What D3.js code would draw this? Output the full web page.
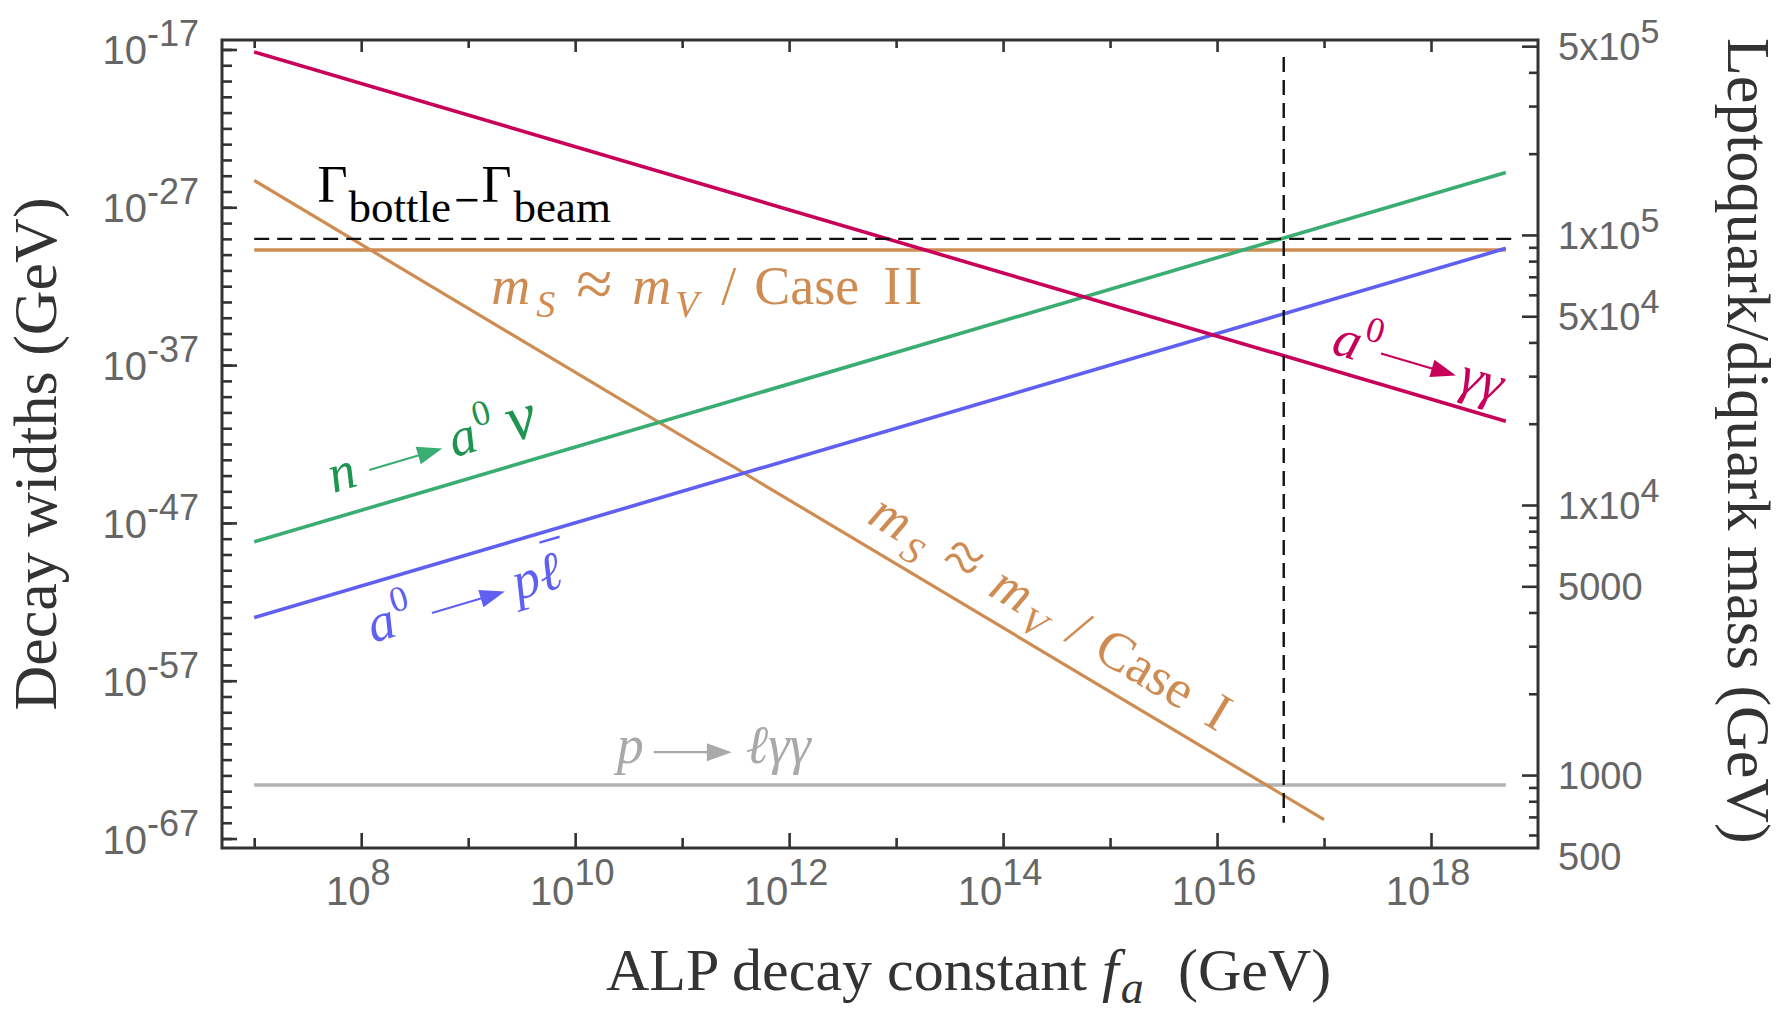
<!DOCTYPE html>
<html>
<head>
<meta charset="utf-8">
<script src="https://cdn.jsdelivr.net/npm/d3@7"></script>
<style>
  body { margin: 0; background: #fff; }
  svg text { font-family: "Liberation Serif", "Times New Roman", serif; }
  .tick-label { font-family: "Liberation Sans", Arial, sans-serif; fill: #666; }
</style>
</head>
<body>
<div id="chart"></div>
<script>
/* values (GeV) */
const faEnds = [1e7, 5e18];                 // f_a range of the long curves
const caseIFa = [1e7, 1e17];
const widthGammaGamma = [6.9e-18, 2.75e-41]; // a0 -> γγ
const widthNeutron = [6.3e-49, 1.6e-25];     // n -> a0 ν
const widthProtonLep = [1.0e-53, 2.5e-30];   // a0 -> p ℓbar
const widthCaseII = [1.95e-30, 1.95e-30];
const widthCaseI = [5.0e-26, 1.6e-66];
const widthLepGG = [2.45e-64, 2.45e-64];     // p -> ℓγγ
const bottleFa = [1e7, 6.3e18];
const bottleWidth = [1e-29, 1e-29];          // Γbottle - Γbeam
const cutFa = [4.2e16, 4.2e16];
const cutWidth = [3.3e-18, 1e-66];

/* ticks */
const xMajorExp = [8, 10, 12, 14, 16, 18];
const xMinorExp = [7, 9, 11, 13, 15, 17];
const yMajorExp = [-17, -27, -37, -47, -57, -67];
const yMinorExp = d3.range(-67, -16);
const massMajor = [5e5, 1e5, 5e4, 1e4, 5000, 1000, 500];
const massLabels = [['5x10', '5'], ['1x10', '5'], ['5x10', '4'], ['1x10', '4'], ['5000', ''], ['1000', ''], ['500', '']];
const massMinor = [4e5, 3e5, 2e5, 9e4, 8e4, 7e4, 6e4, 4e4, 3e4, 2e4, 9000, 8000, 7000, 6000, 4000, 3000, 2000, 900, 800, 700, 600];

const W = 1784, H = 1013;
const mLeft = 222, mRight = 1538, mTop = 40, mBottom = 848;

const x = d3.scaleLog().domain([5e6, 1e19]).range([mLeft, mRight]);
const y = d3.scaleLog().domain([Math.pow(10, -67.6), Math.pow(10, -16.4)]).range([mBottom, mTop]);
const yMass = d3.scaleLog().domain([537, 5.27e5]).range([mBottom, mTop]);

const svg = d3.select('#chart').append('svg')
    .attr('width', W).attr('height', H);

svg.append('defs').append('clipPath').attr('id', 'plot-clip')
    .append('rect').attr('x', mLeft).attr('y', mTop)
    .attr('width', mRight - mLeft).attr('height', mBottom - mTop);

const AXIS = '#333';

// tick helper: draw an axis with no labels and drop its domain line
function ticks (axis, values, size, transform) {
    svg.append('g')
        .attr('transform', transform)
        .attr('color', AXIS)
        .call(axis.tickValues(values).tickSize(-size).tickFormat(''))
        .call(g => g.select('.domain').remove())
        .call(g => g.selectAll('line').attr('stroke-width', 2.6));
}

ticks(d3.axisBottom(x), xMajorExp.map(e => Math.pow(10, e)), 15, `translate(0,${mBottom})`);
ticks(d3.axisBottom(x), xMinorExp.map(e => Math.pow(10, e)), 10, `translate(0,${mBottom})`);
ticks(d3.axisTop(x), xMajorExp.map(e => Math.pow(10, e)), 12, `translate(0,${mTop})`);
ticks(d3.axisTop(x), xMinorExp.map(e => Math.pow(10, e)), 8, `translate(0,${mTop})`);
ticks(d3.axisLeft(y), yMinorExp.map(e => Math.pow(10, e)), 10, `translate(${mLeft},0)`);
ticks(d3.axisLeft(y), yMajorExp.map(e => Math.pow(10, e)), 15, `translate(${mLeft},0)`);
ticks(d3.axisRight(yMass), massMajor.filter(m => yMass(m) <= mBottom), 16, `translate(${mRight},0)`);
ticks(d3.axisRight(yMass), massMinor, 9, `translate(${mRight},0)`);

// frame
svg.append('rect')
    .attr('x', mLeft).attr('y', mTop)
    .attr('width', mRight - mLeft).attr('height', mBottom - mTop)
    .attr('fill', 'none').attr('stroke', AXIS).attr('stroke-width', 3);

// tick labels
xMajorExp.forEach(e => {
    const t = svg.append('text').attr('class', 'tick-label')
        .attr('x', x(Math.pow(10, e)) - 3).attr('y', 905)
        .attr('text-anchor', 'middle');
    t.append('tspan').attr('font-size', 40).text('10');
    t.append('tspan').attr('font-size', 36).attr('dy', -20).text(e);
});

yMajorExp.forEach(e => {
    const ty = y(Math.pow(10, e));
    const t = svg.append('text').attr('class', 'tick-label')
        .attr('x', 199).attr('y', ty + 15)
        .attr('text-anchor', 'end');
    t.append('tspan').attr('font-size', 40).text('10');
    t.append('tspan').attr('font-size', 36).attr('dy', -18).text('-' + (-e));
});

massMajor.forEach((m, i) => {
    const t = svg.append('text').attr('class', 'tick-label')
        .attr('x', mRight + 20).attr('y', yMass(m) + 14);
    t.append('tspan').attr('font-size', 38).text(massLabels[i][0]);
    if (massLabels[i][1]) {
        t.append('tspan').attr('font-size', 34).attr('dy', -17).text(massLabels[i][1]);
    }
});

// axis titles
svg.append('text')
    .attr('transform', 'translate(56,454) rotate(-90)')
    .attr('text-anchor', 'middle')
    .attr('font-size', 62).attr('fill', AXIS)
    .text('Decay widths (GeV)');

svg.append('text')
    .attr('transform', `translate(1728,38) rotate(90)`)
    .attr('font-size', 62).attr('fill', AXIS)
    .text('Leptoquark/diquark mass (GeV)');

const xt = svg.append('text').attr('y', 990).attr('font-size', 60).attr('fill', AXIS);
xt.append('tspan').attr('x', 606).text('ALP decay constant ');
xt.append('tspan').attr('font-style', 'italic').text('f');
xt.append('tspan').attr('font-style', 'italic').attr('font-size', 46).attr('dx', 2).attr('dy', 13).text('a');
xt.append('tspan').attr('x', 1178).attr('dy', -13).text('(GeV)');

// curves
const line = d3.line().x(d => x(d[0])).y(d => y(d[1]));
const plot = svg.append('g').attr('clip-path', 'url(#plot-clip)');

const RED = '#c8005a', ORANGE = '#cf8c52', GREEN = '#3aad73', BLUE = '#5f5ff2', GRAY = '#b2b2b2';

const curves = [
    { fa: faEnds, w: widthLepGG, color: GRAY },
    { fa: caseIFa, w: widthCaseI, color: ORANGE, width: 3.2 },
    { fa: faEnds, w: widthCaseII, color: ORANGE },
    { fa: faEnds, w: widthProtonLep, color: BLUE },
    { fa: faEnds, w: widthNeutron, color: GREEN },
    { fa: faEnds, w: widthGammaGamma, color: RED }
];

curves.forEach(c => {
    plot.append('path')
        .datum(d3.zip(c.fa, c.w))
        .attr('d', line)
        .attr('fill', 'none')
        .attr('stroke', c.color)
        .attr('stroke-width', c.width || 3.6);
});

[[bottleFa, bottleWidth], [cutFa, cutWidth]].forEach(([fa, w]) => {
    plot.append('path')
        .datum(d3.zip(fa, w))
        .attr('d', line)
        .attr('fill', 'none')
        .attr('stroke', '#111')
        .attr('stroke-width', 2.4)
        .attr('stroke-dasharray', '15,8');
});

// annotations: anchor in data coordinates, rotated along their curve
function slope (fa, w) {
    return Math.atan2(y(w[1]) - y(w[0]), x(fa[1]) - x(fa[0])) * 180 / Math.PI;
}

function label (f, g, angle, color, pieces, arrows, arrowColor) {
    const grp = svg.append('g')
        .attr('transform', `translate(${x(f)},${y(g)}) rotate(${angle})`);
    pieces.forEach(p => {
        const [txt, px, style] = p;
        const t = grp.append('text')
            .attr('x', px).attr('fill', color)
            .attr('font-size', 54).text(txt);
        if (style.includes('i')) t.attr('font-style', 'italic');
        if (style.includes('sub')) t.attr('font-size', 38).attr('y', 13);
        if (style.includes('sup')) t.attr('font-size', 36).attr('y', -23);
        if (style.includes('big')) t.attr('font-size', 66).attr('y', 2);
    });
    (arrows || []).forEach(([x1, x2, ay]) => {
        const c = arrowColor || color;
        grp.append('line').attr('x1', x1).attr('x2', x2 - 18)
            .attr('y1', ay).attr('y2', ay)
            .attr('stroke', c).attr('stroke-width', 2.2);
        grp.append('path')
            .attr('d', `M${x2 - 25},${ay - 9}L${x2},${ay}L${x2 - 25},${ay + 9}Z`)
            .attr('fill', c);
    });
    return grp;
}

const casePieces = [['m', 0, 'i'], ['S', 45, 'i sub'], ['\u2248', 84, 'big'], ['m', 141, 'i'],
    ['V', 184, 'i sub'], ['/', 230, ''], ['Case', 263, ''], ['I', 392, '']];

label(1.64e9, 7.4e-34, 0, ORANGE, casePieces.concat([['I', 413, '']]));
label(5.2e12, 1.15e-47, slope(caseIFa, widthCaseI), ORANGE, casePieces);

label(5.5e7, 7.8e-46, slope(faEnds, widthNeutron), '#1f944f',
    [['n', 0, 'i'], ['a', 126, 'i'], ['0', 155, 'sup'], ['\u03bd', 186, 'big']],
    [[41, 117, -12]], GREEN);

const pl = label(1.29e8, 2.5e-55, slope(faEnds, widthProtonLep), BLUE,
    [['a', 0, 'i'], ['0', 28, 'sup'], ['p', 151, 'i'], ['\u2113', 178, 'i']],
    [[65, 141, -12]]);
pl.append('line').attr('x1', 188).attr('x2', 209).attr('y1', -49).attr('y2', -49)
    .attr('stroke', BLUE).attr('stroke-width', 2.4);

label(1.14e17, 5.8e-37, slope(faEnds, widthGammaGamma), RED,
    [['a', 0, 'i'], ['0', 28, 'sup'], ['\u03b3\u03b3', 132, 'i']],
    [[49, 127, -14]]);

label(2.45e10, 6e-63, slope(faEnds, widthLepGG), '#a9a9a9',
    [['p', 0, 'i'], ['\u2113\u03b3\u03b3', 129, 'i']],
    [[37, 115, -11]]);

// Γbottle − Γbeam
const gl = svg.append('g').attr('transform', `translate(${x(3.9e7)},${y(2.1e-27)})`);
gl.append('text').attr('font-size', 52).text('\u0393');
gl.append('text').attr('x', 31).attr('y', 20).attr('font-size', 45).text('bottle');
gl.append('line').attr('x1', 139).attr('x2', 160).attr('y1', -2).attr('y2', -2)
    .attr('stroke', '#000').attr('stroke-width', 2.6);
gl.append('text').attr('x', 164).attr('font-size', 52).text('\u0393');
gl.append('text').attr('x', 196).attr('y', 20).attr('font-size', 45).text('beam');
</script>
</body>
</html>
